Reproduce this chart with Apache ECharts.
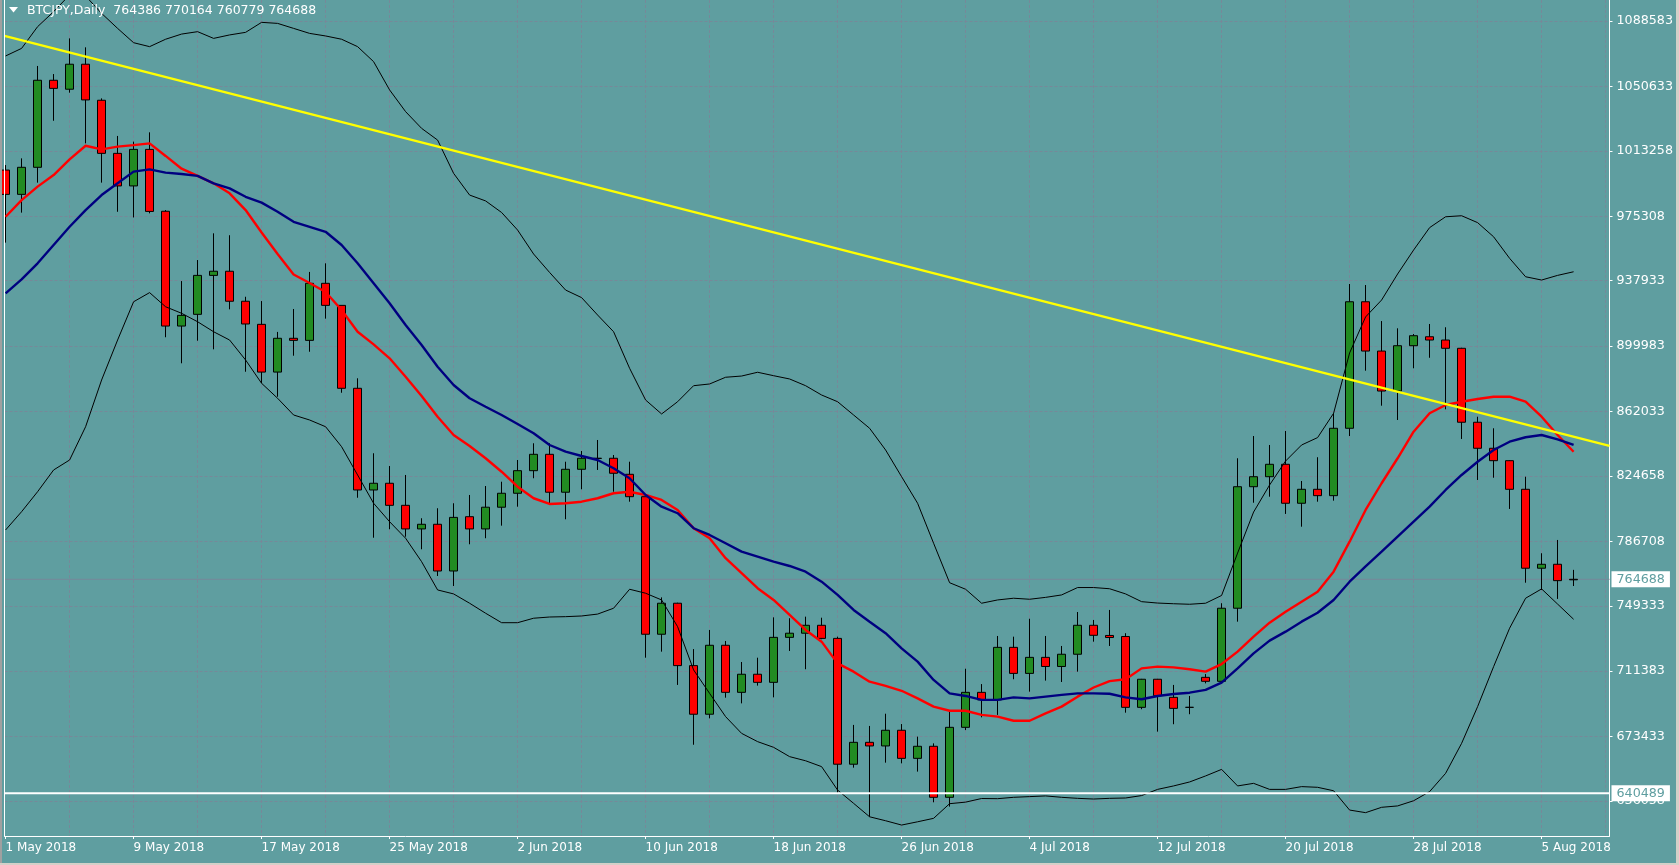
<!DOCTYPE html>
<html><head><meta charset="utf-8">
<script src="https://cdn.jsdelivr.net/npm/echarts@6/dist/echarts.min.js"></script>
<style>html,body{margin:0;padding:0;background:#5F9EA0;overflow:hidden}#c{width:1679px;height:865px}</style>
</head><body><div id="c"></div>
<script>
const symbolName = 'BTCJPY,Daily';
const openV = [1002100,988000,1003700,1054200,1049000,1063500,1042600,1011800,992900,1014100,
 978200,911600,918400,941000,943400,926000,912600,884900,904500,903300,
 936400,923600,875500,816500,820400,807600,793900,796600,769500,801000,
 793900,806500,814600,827700,837200,815200,828500,834800,834900,825600,
 812600,732800,750800,714600,686400,726400,699100,709600,704900,731000,
 733400,738000,730400,657400,670100,668000,677100,660800,667800,638200,
 678800,699100,694700,725200,710100,719400,714100,721200,738000,732100,
 731500,690400,706700,696200,690400,707800,705500,747900,818400,824200,
 831400,808800,816900,813200,852300,925700,897100,873900,900200,905400,
 903500,898700,855800,840700,833500,816900,771100,773400,764386];
const highV = [1005000,1008900,1062500,1057800,1078500,1073300,1043700,1021900,1018600,1024000,
 978900,937700,949900,965400,964300,928600,926100,908200,921500,943000,
 948000,923600,881300,837800,830400,825200,800100,805900,808800,813600,
 818800,821300,833900,843600,843600,832900,839100,845500,836800,832900,
 813000,754200,751100,724200,735300,728900,716700,719200,742600,742100,
 743000,742400,731400,680200,679600,686700,680700,673400,669500,687900,
 712800,703900,731800,731400,741800,731800,726000,745700,741100,746900,
 733400,706900,706900,703400,697000,709700,750800,834900,847800,842600,
 850700,821700,835500,861000,936000,935400,914500,910300,907000,912800,
 910900,899000,859000,852300,833700,824200,779800,787500,770164];
const lowV = [960000,977400,994800,1030700,1047000,1017600,994800,977900,974600,977000,
 905100,890000,903100,898100,921300,885100,878400,870600,894400,896700,
 915900,872900,812000,788800,793700,789400,782100,766600,760800,785000,
 788500,795800,806800,823300,808800,799500,816900,828100,815500,809700,
 719200,722700,703400,668700,684000,696000,692700,703000,696200,723100,
 712500,729900,640500,655400,626900,658300,657900,653100,635300,632800,
 677200,684600,686000,706700,699500,705900,705100,711100,728500,726000,
 687300,689300,676300,680600,686400,704300,704300,740100,809100,812600,
 802600,795200,809700,810300,847800,885700,865400,857100,887100,893200,
 863300,846100,822300,823600,805500,762700,758500,753300,760779];
const closeV = [988000,1003700,1054200,1049500,1063500,1042800,1011800,992900,1014100,978100,
 911600,917800,941000,943400,926000,912800,884900,904500,903300,936400,
 923600,875500,816500,820400,807600,793900,796600,769500,800600,793900,
 806500,814600,827700,837200,815200,828500,834900,834900,826200,812600,
 732800,750800,714600,686400,726400,699100,709600,704900,731000,733400,
 738000,730400,657400,670100,668000,677100,660800,667800,638200,678800,
 699100,694700,725200,710100,719400,714100,721200,738000,732200,730900,
 690400,706700,697100,689800,690400,705500,747900,818400,824200,831400,
 808800,816900,813200,852300,925700,897100,873900,900200,906000,903500,
 898700,855800,840700,833500,816900,771100,773400,763900,764688];
const bbUpper = [1068300,1072700,1085300,1094000,1103700,1103100,1093000,1084300,1076000,1073700,
 1078000,1081000,1082400,1078500,1080500,1082000,1087800,1087200,1084300,1081400,
 1079900,1078000,1073700,1065000,1048600,1036000,1026300,1019500,1000200,987600,
 984200,977500,967300,953400,942700,932500,928100,918000,908300,887100,
 868700,860600,867700,877000,878000,881900,882600,884800,882800,880900,
 877000,871600,867700,860000,852300,839700,824200,808800,785600,762700,
 758900,750800,752700,753700,753100,754200,755600,759900,759900,759200,
 756200,751700,750900,750500,750200,750800,755300,779900,803700,819400,
 833300,842600,846900,861000,896000,916900,926700,941800,955700,968700,
 975000,975600,971600,963400,950900,940200,938300,941000,943100];
const bbLower = [793300,803900,815500,828100,833900,853200,880300,903500,925700,931000,
 922800,919000,914100,908300,903500,891900,878400,869700,860000,857100,
 853200,841600,825200,808800,798100,788500,774900,758500,756200,750800,
 745000,739500,739500,742100,742800,743000,743400,744500,747900,758900,
 756600,752700,737200,712100,698500,685000,675300,670500,667200,661800,
 659400,656000,642400,634700,626900,624600,622100,624000,626000,634500,
 635400,637500,637400,638200,638600,639000,638200,637600,637200,637600,
 637800,639200,642800,644800,647100,650600,654400,644800,646300,642800,
 642800,644400,644000,642000,630800,629300,632400,633200,636200,641500,
 652100,669500,690800,714000,736300,753700,759100,750300,741500];
const maRed = [975000,984700,992500,999200,1008300,1016200,1014100,1015700,1016600,1017600,
 1010300,1002900,998700,994400,988600,978900,965900,953400,941500,936600,
 931400,920900,908300,901000,892900,882200,871000,859000,848400,842000,
 834900,827100,818400,811700,808400,808800,809700,811700,814600,815500,
 813600,810700,804900,794300,788500,776900,768200,759500,752700,744000,
 735300,728500,715900,711100,705300,702800,700000,695600,690800,688400,
 688400,686000,685000,682600,682600,686900,690800,696600,701900,705600,
 706700,713000,714000,713600,712500,711100,715500,722700,731400,739500,
 745900,751700,757500,769100,786500,804900,820400,834900,850300,861000,
 865800,867700,869300,870600,870600,867700,859000,848400,838700];
const maNavy = [930600,938700,948000,958600,969200,978900,987600,994400,1001200,1002500,
 1000600,999800,998700,994400,991500,986600,983200,977900,972100,969200,
 966300,958600,948000,936400,924800,912200,900600,888000,877400,869700,
 864800,860000,854800,849400,842600,838700,836200,833900,829100,823300,
 813600,806800,803000,794300,790400,785600,780700,777800,774900,772400,
 769100,763300,755600,746900,740100,733400,724600,716900,706300,698500,
 697000,694700,694700,696200,695600,696600,697600,698500,698500,698300,
 696200,695100,697000,698100,698900,700500,704700,713000,721700,729100,
 734300,740100,745300,752700,763300,772200,780700,789400,798100,806800,
 816500,825200,832900,839700,844500,847100,848400,845900,842600];
const yTickValues = [1088583,1050633,1013258,975308,937933,899983,862033,824658,786708,749333,711383,673433,636058];
const xTickIndex = [0,8,16,24,32,40,48,56,64,72,80,88,96];
const xTickLabels = ['1 May 2018','9 May 2018','17 May 2018','25 May 2018','2 Jun 2018','10 Jun 2018','18 Jun 2018','26 Jun 2018','4 Jul 2018','12 Jul 2018','20 Jul 2018','28 Jul 2018','5 Aug 2018'];
const trendAnchors = [[0, 1079800], [98, 847400]];
const hLinePrice = 640489;

// axis bounds (bar index on x, price on y)
const X_MIN = -0.06875, X_MAX = 100.24375;
const Y_MIN = 615752, Y_MAX = 1100766;
const gridIdx = [];
for (let k = 4; k <= 100; k += 4) gridIdx.push(k);

const last = openV.length - 1;
const bidPrice = closeV[last];
const candles = openV.map((o, i) => [i, o, closeV[i], lowV[i], highV[i]]);
const toXY = arr => arr.map((v, i) => [i, v]);
const slope = (trendAnchors[1][1] - trendAnchors[0][1]) / (trendAnchors[1][0] - trendAnchors[0][0]);
const trendAt = x => trendAnchors[0][1] + slope * (x - trendAnchors[0][0]);
const FONT = 'DejaVu Sans';

const lineBase = {type: 'line', showSymbol: false, symbol: 'none', silent: true, animation: false, emphasis: {disabled: true}};
const boxLabel = {show: true, distance: 2, backgroundColor: '#ffffff', color: '#5F9EA0', padding: [2, 5, 1, 5], fontFamily: FONT, fontSize: 12.7};

const chart = echarts.init(document.getElementById('c'), null, {renderer: 'canvas', width: 1679, height: 865});
chart.setOption({
  animation: false,
  backgroundColor: '#5F9EA0',
  grid: {left: 4.5, right: 69.5, top: 0, bottom: 29, containLabel: false},
  xAxis: [{
    type: 'value', min: X_MIN, max: X_MAX, position: 'bottom',
    axisLine: {show: true, onZero: false, lineStyle: {color: '#ffffff', width: 1}},
    axisTick: {show: true, customValues: xTickIndex, length: 3, lineStyle: {color: '#ffffff'}},
    axisLabel: {show: true, customValues: xTickIndex, color: '#ffffff', fontFamily: FONT, fontSize: 12, align: 'left', margin: 6,
      formatter: v => xTickLabels[xTickIndex.indexOf(Math.round(v))] || ''},
    splitLine: {show: false}
  }, {
    type: 'value', min: X_MIN, max: X_MAX, position: 'top',
    axisLine: {show: false}, axisLabel: {show: false},
    axisTick: {show: false, customValues: gridIdx},
    splitLine: {show: true, lineStyle: {color: '#778899', width: 1, type: [3, 2]}}
  }],
  yAxis: [{
    type: 'value', min: Y_MIN, max: Y_MAX, position: 'right',
    axisLine: {show: true, onZero: false, lineStyle: {color: '#ffffff', width: 1}},
    axisTick: {show: true, customValues: yTickValues, length: 3, lineStyle: {color: '#ffffff'}},
    axisLabel: {show: true, customValues: yTickValues, color: '#ffffff', fontFamily: FONT, fontSize: 12.7, margin: 7, formatter: v => String(v)},
    splitLine: {show: true, lineStyle: {color: '#778899', width: 1, type: [3, 2]}}
  }],
  graphic: [
    {type: 'rect', shape: {x: 0, y: 0, width: 2, height: 865}, style: {fill: '#a0a0a0'}, silent: true, z: 10},
    {type: 'rect', shape: {x: 0, y: 863, width: 1679, height: 2}, style: {fill: '#d4d0c8'}, silent: true, z: 10},
    {type: 'rect', shape: {x: 1676, y: 0, width: 3, height: 865}, style: {fill: '#d4d0c8'}, silent: true, z: 10},
    {type: 'line', shape: {x1: 4.5, y1: 0, x2: 4.5, y2: 836}, style: {stroke: '#ffffff', lineWidth: 1}, silent: true, z: 10},
    {type: 'polygon', shape: {points: [[9, 7], [18, 7], [13.5, 12.5]]}, style: {fill: '#ffffff'}, silent: true, z: 10},
    {type: 'text', x: 27, y: 11, silent: true, z: 10,
      style: {text: symbolName + '  ' + openV[last] + ' ' + highV[last] + ' ' + lowV[last] + ' ' + closeV[last],
        fill: '#ffffff', font: '12.5px "DejaVu Sans"', verticalAlign: 'middle', textVerticalAlign: 'middle'}}
  ],
  series: [
    Object.assign({}, lineBase, {name: 'bid', z: 1, data: [[X_MIN, bidPrice], [X_MAX, bidPrice]],
      lineStyle: {color: '#778899', width: 1},
      endLabel: Object.assign({}, boxLabel, {formatter: () => String(bidPrice)})}),
    {type: 'candlestick', name: 'BTCJPY', data: candles, barWidth: 9, z: 3, silent: true, animation: false,
      itemStyle: {color: '#228B22', color0: '#FF0000', borderColor: '#000000', borderColor0: '#000000', borderColorDoji: '#000000', borderWidth: 1}},
    Object.assign({}, lineBase, {name: 'bbUpper', z: 4, data: toXY(bbUpper), lineStyle: {color: '#000000', width: 1}}),
    Object.assign({}, lineBase, {name: 'bbLower', z: 4, data: toXY(bbLower), lineStyle: {color: '#000000', width: 1}}),
    Object.assign({}, lineBase, {name: 'maRed', z: 5, data: toXY(maRed), lineStyle: {color: '#FF0000', width: 2.4}}),
    Object.assign({}, lineBase, {name: 'maNavy', z: 5, data: toXY(maNavy), lineStyle: {color: '#000080', width: 2.4}}),
    Object.assign({}, lineBase, {name: 'trend', z: 6, data: [[X_MIN, trendAt(X_MIN)], [X_MAX, trendAt(X_MAX)]], lineStyle: {color: '#FFFF00', width: 2.4}}),
    Object.assign({}, lineBase, {name: 'hline', z: 7, data: [[X_MIN, hLinePrice], [X_MAX, hLinePrice]],
      lineStyle: {color: '#ffffff', width: 2},
      endLabel: Object.assign({}, boxLabel, {formatter: () => String(hLinePrice)})})
  ]
});
</script></body></html>
